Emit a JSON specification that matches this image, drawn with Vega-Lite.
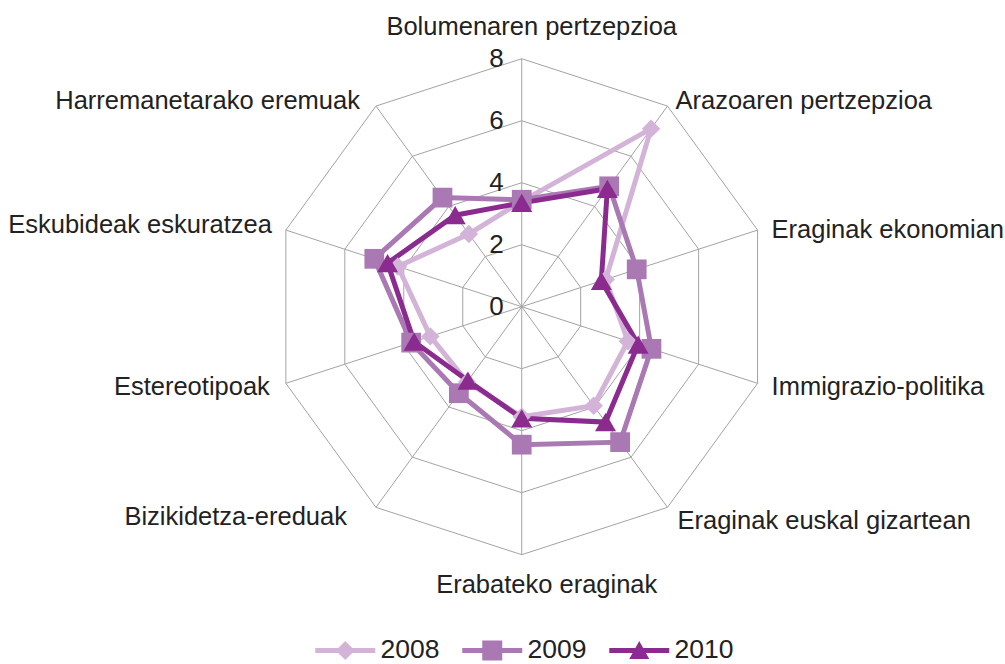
{
  "$schema": "https://vega.github.io/schema/vega-lite/v6.json",
  "width": 1005,
  "height": 664,
  "autosize": "none",
  "padding": 0,
  "background": "white",
  "config": {"view": {"stroke": null}, "font": "Liberation Sans"},
  "datasets": {
    "values": [
      {"cat": "Bolumenaren pertzepzioa", "idx": 0, "year": "2008", "value": 3.4},
      {"cat": "Bolumenaren pertzepzioa", "idx": 0, "year": "2009", "value": 3.45},
      {"cat": "Bolumenaren pertzepzioa", "idx": 0, "year": "2010", "value": 3.35},
      {"cat": "Arazoaren pertzepzioa", "idx": 1, "year": "2008", "value": 7.1},
      {"cat": "Arazoaren pertzepzioa", "idx": 1, "year": "2009", "value": 4.8},
      {"cat": "Arazoaren pertzepzioa", "idx": 1, "year": "2010", "value": 4.7},
      {"cat": "Eraginak ekonomian", "idx": 2, "year": "2008", "value": 2.85},
      {"cat": "Eraginak ekonomian", "idx": 2, "year": "2009", "value": 3.9},
      {"cat": "Eraginak ekonomian", "idx": 2, "year": "2010", "value": 2.7},
      {"cat": "Immigrazio-politika", "idx": 3, "year": "2008", "value": 3.6},
      {"cat": "Immigrazio-politika", "idx": 3, "year": "2009", "value": 4.4},
      {"cat": "Immigrazio-politika", "idx": 3, "year": "2010", "value": 3.95},
      {"cat": "Eraginak euskal gizartean", "idx": 4, "year": "2008", "value": 3.95},
      {"cat": "Eraginak euskal gizartean", "idx": 4, "year": "2009", "value": 5.4},
      {"cat": "Eraginak euskal gizartean", "idx": 4, "year": "2010", "value": 4.6},
      {"cat": "Erabateko eraginak", "idx": 5, "year": "2008", "value": 3.55},
      {"cat": "Erabateko eraginak", "idx": 5, "year": "2009", "value": 4.45},
      {"cat": "Erabateko eraginak", "idx": 5, "year": "2010", "value": 3.6},
      {"cat": "Bizikidetza-ereduak", "idx": 6, "year": "2008", "value": 3.0},
      {"cat": "Bizikidetza-ereduak", "idx": 6, "year": "2009", "value": 3.45},
      {"cat": "Bizikidetza-ereduak", "idx": 6, "year": "2010", "value": 2.95},
      {"cat": "Estereotipoak", "idx": 7, "year": "2008", "value": 3.1},
      {"cat": "Estereotipoak", "idx": 7, "year": "2009", "value": 3.75},
      {"cat": "Estereotipoak", "idx": 7, "year": "2010", "value": 3.65},
      {"cat": "Eskubideak eskuratzea", "idx": 8, "year": "2008", "value": 4.2},
      {"cat": "Eskubideak eskuratzea", "idx": 8, "year": "2009", "value": 5.0},
      {"cat": "Eskubideak eskuratzea", "idx": 8, "year": "2010", "value": 4.55},
      {"cat": "Harremanetarako eremuak", "idx": 9, "year": "2008", "value": 2.9},
      {"cat": "Harremanetarako eremuak", "idx": 9, "year": "2009", "value": 4.35},
      {"cat": "Harremanetarako eremuak", "idx": 9, "year": "2010", "value": 3.65}
    ],
    "axes": [
      {"cat": "Bolumenaren pertzepzioa", "idx": 0, "max": 8},
      {"cat": "Arazoaren pertzepzioa", "idx": 1, "max": 8},
      {"cat": "Eraginak ekonomian", "idx": 2, "max": 8},
      {"cat": "Immigrazio-politika", "idx": 3, "max": 8},
      {"cat": "Eraginak euskal gizartean", "idx": 4, "max": 8},
      {"cat": "Erabateko eraginak", "idx": 5, "max": 8},
      {"cat": "Bizikidetza-ereduak", "idx": 6, "max": 8},
      {"cat": "Estereotipoak", "idx": 7, "max": 8},
      {"cat": "Eskubideak eskuratzea", "idx": 8, "max": 8},
      {"cat": "Harremanetarako eremuak", "idx": 9, "max": 8}
    ],
    "grid": [
      {"idx": 0, "level": 2}, {"idx": 1, "level": 2}, {"idx": 2, "level": 2}, {"idx": 3, "level": 2}, {"idx": 4, "level": 2},
      {"idx": 5, "level": 2}, {"idx": 6, "level": 2}, {"idx": 7, "level": 2}, {"idx": 8, "level": 2}, {"idx": 9, "level": 2},
      {"idx": 0, "level": 4}, {"idx": 1, "level": 4}, {"idx": 2, "level": 4}, {"idx": 3, "level": 4}, {"idx": 4, "level": 4},
      {"idx": 5, "level": 4}, {"idx": 6, "level": 4}, {"idx": 7, "level": 4}, {"idx": 8, "level": 4}, {"idx": 9, "level": 4},
      {"idx": 0, "level": 6}, {"idx": 1, "level": 6}, {"idx": 2, "level": 6}, {"idx": 3, "level": 6}, {"idx": 4, "level": 6},
      {"idx": 5, "level": 6}, {"idx": 6, "level": 6}, {"idx": 7, "level": 6}, {"idx": 8, "level": 6}, {"idx": 9, "level": 6},
      {"idx": 0, "level": 8}, {"idx": 1, "level": 8}, {"idx": 2, "level": 8}, {"idx": 3, "level": 8}, {"idx": 4, "level": 8},
      {"idx": 5, "level": 8}, {"idx": 6, "level": 8}, {"idx": 7, "level": 8}, {"idx": 8, "level": 8}, {"idx": 9, "level": 8}
    ],
    "ticks": [{"tick": 0}, {"tick": 2}, {"tick": 4}, {"tick": 6}, {"tick": 8}]
  },
  "encoding": {
    "x": {"field": "px", "type": "quantitative", "scale": {"domain": [-16.83, 15.59], "nice": false, "zero": false}, "axis": null},
    "y": {"field": "py", "type": "quantitative", "scale": {"domain": [-11.526, 9.894], "nice": false, "zero": false}, "axis": null}
  },
  "layer": [
    {
      "data": {"name": "grid"},
      "transform": [
        {"calculate": "datum.level * sin(datum.idx * PI / 5)", "as": "px"},
        {"calculate": "datum.level * cos(datum.idx * PI / 5)", "as": "py"}
      ],
      "mark": {"type": "line", "interpolate": "linear-closed", "stroke": "#a3a3a3", "strokeWidth": 1},
      "encoding": {"detail": {"field": "level", "type": "nominal"}, "order": {"field": "idx", "type": "quantitative"}}
    },
    {
      "data": {"name": "axes"},
      "transform": [
        {"calculate": "datum.max * sin(datum.idx * PI / 5)", "as": "px"},
        {"calculate": "datum.max * cos(datum.idx * PI / 5)", "as": "py"}
      ],
      "mark": {"type": "rule", "stroke": "#a3a3a3", "strokeWidth": 1},
      "encoding": {"x2": {"datum": 0}, "y2": {"datum": 0}}
    },
    {
      "data": {"name": "ticks"},
      "transform": [
        {"calculate": "0", "as": "px"},
        {"calculate": "datum.tick", "as": "py"}
      ],
      "mark": {"type": "text", "align": "right", "baseline": "middle", "dx": -18, "fontSize": 26, "color": "#222222"},
      "encoding": {"text": {"field": "tick", "type": "quantitative"}}
    },
    {
      "data": {"name": "values"},
      "transform": [
        {"calculate": "datum.value * sin(datum.idx * PI / 5)", "as": "px"},
        {"calculate": "datum.value * cos(datum.idx * PI / 5)", "as": "py"}
      ],
      "mark": {"type": "line", "interpolate": "linear-closed", "strokeWidth": 5},
      "encoding": {
        "stroke": {"field": "year", "type": "nominal", "scale": {"range": ["#d3b4d8", "#aa78b3", "#8b2a8f"]}, "legend": null},
        "detail": {"field": "year", "type": "nominal"},
        "order": {"field": "idx", "type": "quantitative"}
      }
    },
    {
      "data": {"name": "values"},
      "transform": [
        {"calculate": "datum.value * sin(datum.idx * PI / 5)", "as": "px"},
        {"calculate": "datum.value * cos(datum.idx * PI / 5)", "as": "py"}
      ],
      "mark": {"type": "point", "filled": true, "opacity": 1, "strokeWidth": 0},
      "encoding": {
        "color": {
          "field": "year", "type": "nominal",
          "scale": {"domain": ["2008", "2009", "2010"], "range": ["#d3b4d8", "#aa78b3", "#8b2a8f"]},
          "legend": {
            "orient": "none", "legendX": 332, "legendY": 637, "direction": "horizontal",
            "title": null, "padding": 0, "labelFontSize": 26.5, "labelColor": "#222222", "labelFont": "Liberation Sans",
            "symbolSize": 400, "labelOffset": 22, "columnPadding": 22, "symbolStrokeWidth": 0,
            "symbolType": {"expr": "datum.value === '2008' ? 'M-3,-0.25H3V0.25H-3ZM0,-0.95L0.95,0L0,0.95L-0.95,0Z' : datum.value === '2009' ? 'M-3,-0.25H3V0.25H-3ZM-1,-1H1V1H-1Z' : 'M-3,-0.25H3V0.25H-3ZM0,-0.95L1,0.85L-1,0.85Z'"}
          }
        },
        "shape": {"field": "year", "type": "nominal", "scale": {"range": ["diamond", "square", "triangle-up"]}, "legend": null},
        "size": {"field": "year", "type": "nominal", "scale": {"range": [340, 440, 420]}, "legend": null}
      }
    },
    {
      "data": {"name": "axes"},
      "transform": [
        {"filter": "datum.idx === 0"},
        {"calculate": "datum.max * sin(datum.idx * PI / 5)", "as": "px"},
        {"calculate": "datum.max * cos(datum.idx * PI / 5)", "as": "py"}
      ],
      "mark": {"type": "text", "align": "center", "baseline": "middle", "dx": 10, "dy": -32, "fontSize": 25.5, "color": "#222222"},
      "encoding": {"text": {"field": "cat", "type": "nominal"}}
    },
    {
      "data": {"name": "axes"},
      "transform": [
        {"filter": "datum.idx === 1"},
        {"calculate": "datum.max * sin(datum.idx * PI / 5)", "as": "px"},
        {"calculate": "datum.max * cos(datum.idx * PI / 5)", "as": "py"}
      ],
      "mark": {"type": "text", "align": "left", "baseline": "middle", "dx": 8, "dy": -5, "fontSize": 25.5, "color": "#222222"},
      "encoding": {"text": {"field": "cat", "type": "nominal"}}
    },
    {
      "data": {"name": "axes"},
      "transform": [
        {"filter": "datum.idx === 2"},
        {"calculate": "datum.max * sin(datum.idx * PI / 5)", "as": "px"},
        {"calculate": "datum.max * cos(datum.idx * PI / 5)", "as": "py"}
      ],
      "mark": {"type": "text", "align": "left", "baseline": "middle", "dx": 14, "dy": 0, "fontSize": 25.5, "color": "#222222"},
      "encoding": {"text": {"field": "cat", "type": "nominal"}}
    },
    {
      "data": {"name": "axes"},
      "transform": [
        {"filter": "datum.idx === 3"},
        {"calculate": "datum.max * sin(datum.idx * PI / 5)", "as": "px"},
        {"calculate": "datum.max * cos(datum.idx * PI / 5)", "as": "py"}
      ],
      "mark": {"type": "text", "align": "left", "baseline": "middle", "dx": 14, "dy": 4, "fontSize": 25.5, "color": "#222222"},
      "encoding": {"text": {"field": "cat", "type": "nominal"}}
    },
    {
      "data": {"name": "axes"},
      "transform": [
        {"filter": "datum.idx === 4"},
        {"calculate": "datum.max * sin(datum.idx * PI / 5)", "as": "px"},
        {"calculate": "datum.max * cos(datum.idx * PI / 5)", "as": "py"}
      ],
      "mark": {"type": "text", "align": "left", "baseline": "middle", "dx": 10, "dy": 14, "fontSize": 25.5, "color": "#222222"},
      "encoding": {"text": {"field": "cat", "type": "nominal"}}
    },
    {
      "data": {"name": "axes"},
      "transform": [
        {"filter": "datum.idx === 5"},
        {"calculate": "datum.max * sin(datum.idx * PI / 5)", "as": "px"},
        {"calculate": "datum.max * cos(datum.idx * PI / 5)", "as": "py"}
      ],
      "mark": {"type": "text", "align": "center", "baseline": "middle", "dx": 25, "dy": 30, "fontSize": 25.5, "color": "#222222"},
      "encoding": {"text": {"field": "cat", "type": "nominal"}}
    },
    {
      "data": {"name": "axes"},
      "transform": [
        {"filter": "datum.idx === 6"},
        {"calculate": "datum.max * sin(datum.idx * PI / 5)", "as": "px"},
        {"calculate": "datum.max * cos(datum.idx * PI / 5)", "as": "py"}
      ],
      "mark": {"type": "text", "align": "right", "baseline": "middle", "dx": -29, "dy": 10, "fontSize": 25.5, "color": "#222222"},
      "encoding": {"text": {"field": "cat", "type": "nominal"}}
    },
    {
      "data": {"name": "axes"},
      "transform": [
        {"filter": "datum.idx === 7"},
        {"calculate": "datum.max * sin(datum.idx * PI / 5)", "as": "px"},
        {"calculate": "datum.max * cos(datum.idx * PI / 5)", "as": "py"}
      ],
      "mark": {"type": "text", "align": "right", "baseline": "middle", "dx": -16, "dy": 4, "fontSize": 25.5, "color": "#222222"},
      "encoding": {"text": {"field": "cat", "type": "nominal"}}
    },
    {
      "data": {"name": "axes"},
      "transform": [
        {"filter": "datum.idx === 8"},
        {"calculate": "datum.max * sin(datum.idx * PI / 5)", "as": "px"},
        {"calculate": "datum.max * cos(datum.idx * PI / 5)", "as": "py"}
      ],
      "mark": {"type": "text", "align": "right", "baseline": "middle", "dx": -14, "dy": -5, "fontSize": 25.5, "color": "#222222"},
      "encoding": {"text": {"field": "cat", "type": "nominal"}}
    },
    {
      "data": {"name": "axes"},
      "transform": [
        {"filter": "datum.idx === 9"},
        {"calculate": "datum.max * sin(datum.idx * PI / 5)", "as": "px"},
        {"calculate": "datum.max * cos(datum.idx * PI / 5)", "as": "py"}
      ],
      "mark": {"type": "text", "align": "right", "baseline": "middle", "dx": -16, "dy": -5, "fontSize": 25.5, "color": "#222222"},
      "encoding": {"text": {"field": "cat", "type": "nominal"}}
    }
  ]
}
